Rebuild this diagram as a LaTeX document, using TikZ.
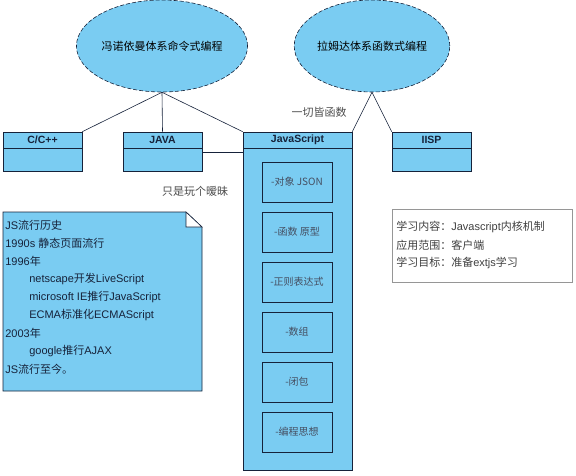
\documentclass[tikz,border=0pt]{standalone}
\usepackage{fontspec}
\setmainfont{Liberation Sans}
\newfontfamily\cjk{Noto Sans CJK SC}
\usetikzlibrary{shapes.geometric}
\definecolor{umlblue}{RGB}{122,204,242}
\definecolor{umlline}{RGB}{22,34,58}
\definecolor{infogray}{RGB}{150,150,150}

\begin{document}
\begin{tikzpicture}[x=1pt, y=-1pt, font=\fontsize{11}{13}\selectfont, line width=0.6pt,
  paradigm/.style={ellipse, draw=umlline, dash pattern=on 4pt off 2pt, fill=umlblue,
    minimum width=139pt, minimum height=92pt, inner sep=0pt,
    font=\cjk\fontsize{11}{13}\selectfont},
  classhead/.style={draw=umlline, fill=umlblue, minimum height=16pt, inner sep=0pt,
    font=\bfseries\fontsize{10.5}{12}\selectfont, text=umlline},
  classbody/.style={draw=umlline, fill=umlblue, inner sep=0pt},
  feature/.style={draw=umlline, fill=umlblue, minimum width=70pt, minimum height=40pt,
    inner sep=0pt, font=\cjk\fontsize{10}{12}\selectfont, text=umlline!80},
  noteline/.style={anchor=west, inner sep=0pt, text=umlline},
  infoline/.style={anchor=west, inner sep=0pt, text=black!75},
  remark/.style={inner sep=0pt, text=black!70, font=\cjk\fontsize{11}{13}\selectfont}]
  \useasboundingbox (0,0) rectangle (576,476);

  %% ── Paradigms ──────────────────────────────────────────────
  \node[paradigm] (vonneumann) at (162,46) {冯诺依曼体系命令式编程};
  \node[paradigm] (lambda) at (372,46) {拉姆达体系函数式编程};

  %% ── Languages ──────────────────────────────────────────────
  \node[classbody, minimum width=79pt, minimum height=23pt] (cppbody) at (42.5,159.5) {};
  \node[classhead, minimum width=79pt] (cpphead) at (42.5,140) {C/C++};
  \node[classbody, minimum width=79pt, minimum height=23pt] (javabody) at (162.5,159.5) {};
  \node[classhead, minimum width=79pt] (javahead) at (162.5,140) {JAVA};
  \node[classbody, minimum width=109pt, minimum height=322pt] (jsbody) at (297.5,309) {};
  \node[classhead, minimum width=109pt] (jshead) at (297.5,140) {JavaScript};
  \node[classbody, minimum width=79pt, minimum height=23pt] (lispbody) at (431.5,159.5) {};
  \node[classhead, minimum width=79pt] (lisphead) at (431.5,140) {IISP};

  %% JavaScript features
  \foreach \i/\t in {1/{-对象 JSON}, 2/{-函数 原型}, 3/{-正则表达式},
                     4/{-数组}, 5/{-闭包}, 6/{-编程思想}}
    \node[feature] (feat\i) at (297,132+50*\i) {\t};

  %% ── Connectors ─────────────────────────────────────────────
  \draw[umlline] (vonneumann.south) -- (cpphead.north east);
  \draw[umlline] (vonneumann.south) -- (javahead.north);
  \draw[umlline] (vonneumann.south) -- (jshead.north west);
  \draw[umlline] (lambda.south) -- (jshead.north east);
  \draw[umlline] (lambda.south) -- (lisphead.north west);
  \draw[umlline] (javabody.east |- 0,152) -- (jsbody.west |- 0,152);
  \node[remark] (allfunc) at (319,112) {一切皆函数};
  \node[remark] (flirt) at (195,191) {只是玩个暧昧};

  %% ── History note ───────────────────────────────────────────
  \draw[umlline, fill=umlblue] (3,212) -- (186,212) -- (202,227) -- (202,391)
    -- (3,391) -- cycle;
  \draw[umlline, fill=white] (186,212) -- (186,227) -- (202,227) -- cycle;
  \node[noteline] (hist1) at (5,225) {JS{\cjk 流行历史}};
  \node[noteline] (hist2) at (5,243) {1990s {\cjk 静态页面流行}};
  \node[noteline] (hist3) at (5,261) {1996{\cjk 年}};
  \node[noteline] (hist4) at (29,279) {netscape{\cjk 开发}LiveScript};
  \node[noteline] (hist5) at (29,297) {microsoft IE{\cjk 推行}JavaScript};
  \node[noteline] (hist6) at (29,315) {ECMA{\cjk 标准化}ECMAScript};
  \node[noteline] (hist7) at (5,333) {2003{\cjk 年}};
  \node[noteline] (hist8) at (29,351) {google{\cjk 推行}AJAX};
  \node[noteline] (hist9) at (5,369) {JS{\cjk 流行至今。}};

  %% ── Study info ─────────────────────────────────────────────
  \draw[infogray, fill=white] (392,209) rectangle (572,282);
  \node[infoline] (info1) at (396,227) {{\cjk 学习内容：}Javascript{\cjk 内核机制}};
  \node[infoline] (info2) at (396,245) {{\cjk 应用范围：客户端}};
  \node[infoline] (info3) at (396,263) {{\cjk 学习目标：准备}extjs{\cjk 学习}};
\end{tikzpicture}
\end{document}
